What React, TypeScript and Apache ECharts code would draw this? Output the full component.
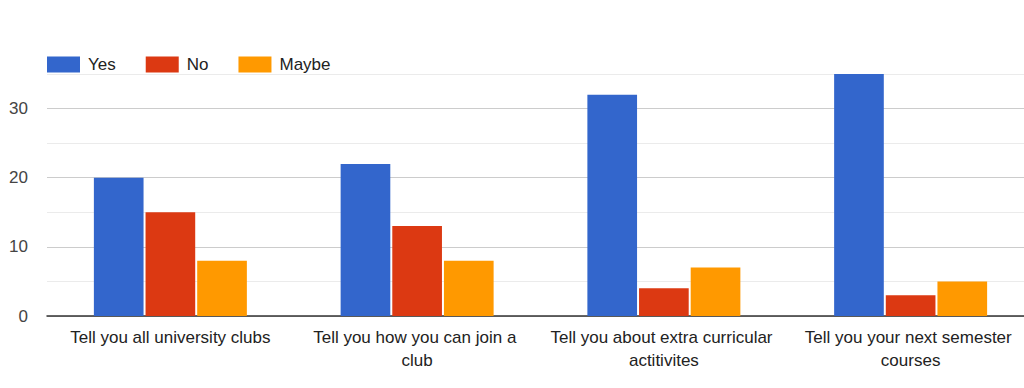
import React, { useEffect, useRef } from "react";
import * as echarts from "echarts";

const categories = [
  "Tell you all university clubs",
  "Tell you how you can join a club",
  "Tell you about extra curricular actitivites",
  "Tell you your next semester courses",
];
const yesValues = [20, 22, 32, 35];
const noValues = [15, 13, 4, 3];
const maybeValues = [8, 8, 7, 5];

export default function App() {
  const ref = useRef<HTMLDivElement>(null);
  useEffect(() => {
    document.body.style.margin = "0";
    const chart = echarts.init(ref.current!, null, { renderer: "svg" });
    const font = "Arial, 'Liberation Sans', sans-serif";
    chart.setOption({
      animation: false,
      color: ["#3366cc", "#dc3912", "#ff9900"],
      textStyle: { fontFamily: font },
      legend: {
        left: 42,
        top: 51,
        icon: "rect",
        itemWidth: 33,
        itemHeight: 16,
        itemGap: 30,
        textStyle: { fontSize: 17, color: "#222", fontFamily: font, padding: [0, 0, 0, 3] },
        data: ["Yes", "No", "Maybe"],
      },
      grid: { left: 47, right: -10, top: 74, bottom: 72, containLabel: false, outerBoundsMode: "none" },
      xAxis: {
        type: "category",
        data: categories,
        axisTick: { show: false },
        axisLine: { lineStyle: { color: "#333", width: 1.5 } },
        axisLabel: {
          interval: 0,
          color: "#222",
          fontSize: 17,
          fontFamily: font,
          width: 232,
          overflow: "break",
          lineHeight: 23,
          margin: 10,
        },
      },
      yAxis: {
        type: "value",
        min: 0,
        max: 35,
        interval: 5,
        axisLine: { show: false },
        axisTick: { show: false },
        axisLabel: {
          color: "#444",
          fontSize: 17,
          fontFamily: font,
          margin: 19,
          formatter: (v: number) => (v % 10 === 0 ? String(v) : ""),
        },
        splitLine: { lineStyle: { color: ["#cccccc", "#ebebeb"], width: 1 } },
      },
      series: [
        { name: "Yes", type: "bar", data: yesValues, barGap: "4%", barCategoryGap: "38%" },
        { name: "No", type: "bar", data: noValues, barGap: "4%", barCategoryGap: "38%" },
        { name: "Maybe", type: "bar", data: maybeValues, barGap: "4%", barCategoryGap: "38%" },
      ],
    });
    return () => chart.dispose();
  }, []);
  return <div ref={ref} style={{ width: 1024, height: 388 }} />;
}
